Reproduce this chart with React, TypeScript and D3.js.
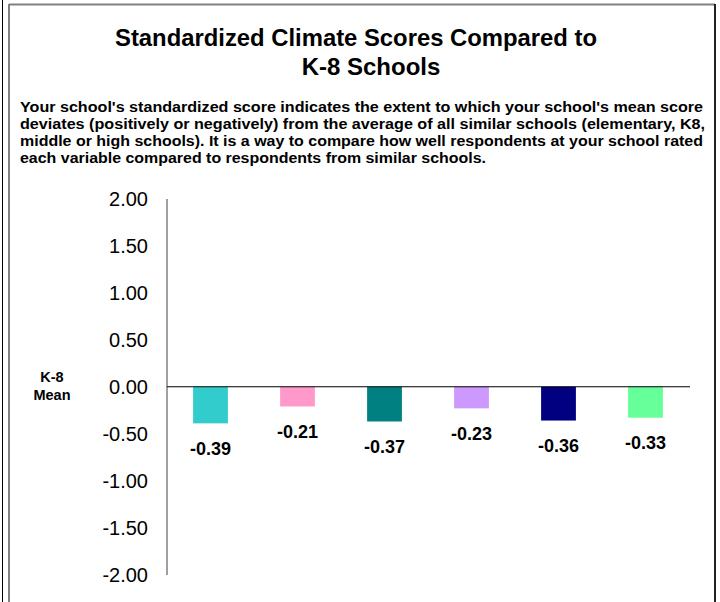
import React from "react";
import * as d3 from "d3";

const categories = ["Var 1", "Var 2", "Var 3", "Var 4", "Var 5", "Var 6"];
const scores = [-0.39, -0.21, -0.37, -0.23, -0.36, -0.33];
const colors = ["#33CCCC", "#FF99CC", "#008080", "#CC99FF", "#000080", "#66FF99"];
const yTicks = [2, 1.5, 1, 0.5, 0, -0.5, -1, -1.5, -2];

const titleLines = ["Standardized Climate Scores Compared to", "K-8 Schools"];
const noteLines = [
  "Your school's standardized score indicates the extent to which your school's mean score",
  "deviates (positively or negatively) from the average of all similar schools (elementary, K8,",
  "middle or high schools). It is a way to compare how well respondents at your school rated",
  "each variable compared to respondents from similar schools.",
];
const noteWidths = [683, 685, 683, 466];

const W = 720;
const H = 602;
const font = "'Liberation Sans', Arial, sans-serif";

// plain hyphen for negatives, like the original
const fmt2 = d3.format(".2f");
const fmt = (v: number) => fmt2(v).replace("\u2212", "-");

export default function App() {
  // plot area
  const left = 167;
  const right = 689;
  const top = 199;
  const bottom = 574.5;

  const x = d3
    .scaleBand<string>()
    .domain(categories)
    .range([left, right])
    .paddingInner(0.6)
    .paddingOuter(0.3);

  const y = d3.scaleLinear().domain([-2, 2]).range([bottom, top]);

  return (
    <svg
      width={W}
      height={H}
      style={{ position: "absolute", left: 0, top: 0, background: "#fff" }}
      fontFamily={font}
    >
      {/* frames */}
      <line x1={2.5} y1={0} x2={2.5} y2={H} stroke="#000" strokeWidth={1} />
      <line x1={9} y1={4.5} x2={715} y2={4.5} stroke="#808080" strokeWidth={2} />
      <line x1={9} y1={4} x2={9} y2={H} stroke="#808080" strokeWidth={2} />
      <line x1={715} y1={4} x2={715} y2={H} stroke="#222" strokeWidth={2} />

      {/* title */}
      <text x={356} y={46} textAnchor="middle" fontSize={24} fontWeight="bold"
        textLength={482} lengthAdjust="spacingAndGlyphs">
        {titleLines[0]}
      </text>
      <text x={371} y={75} textAnchor="middle" fontSize={24} fontWeight="bold">
        {titleLines[1]}
      </text>

      {noteLines.map((t, i) => (
        <text key={i} x={20} y={112 + i * 17} fontSize={14} fontWeight="bold"
          textLength={noteWidths[i]} lengthAdjust="spacingAndGlyphs">
          {t}
        </text>
      ))}

      {/* y axis */}
      <line x1={left} y1={top} x2={left} y2={bottom + 0.5} stroke="#808080" strokeWidth={1.5} />
      {yTicks.map((t) => (
        <text key={t} x={148} y={y(t)} textAnchor="end" dominantBaseline="central" fontSize={20}>
          {fmt(t)}
        </text>
      ))}

      <text x={52} y={382} textAnchor="middle" fontSize={14.5} fontWeight="bold">K-8</text>
      <text x={52} y={400} textAnchor="middle" fontSize={14.5} fontWeight="bold">Mean</text>

      {/* bars */}
      {scores.map((v, i) => {
        const c = categories[i];
        const y0 = y(0);
        const y1 = y(v);
        return (
          <g key={c}>
            <rect x={x(c)} y={Math.min(y0, y1)} width={x.bandwidth()} height={Math.abs(y1 - y0)}
              fill={colors[i]} />
            <text x={(x(c) as number) + x.bandwidth() / 2} y={y1 + 31.5} textAnchor="middle"
              fontSize={18} fontWeight="bold">
              {fmt(v)}
            </text>
          </g>
        );
      })}

      {/* zero line */}
      <line x1={left} y1={y(0)} x2={right + 1} y2={y(0)} stroke="#000" strokeWidth={1} />
    </svg>
  );
}
